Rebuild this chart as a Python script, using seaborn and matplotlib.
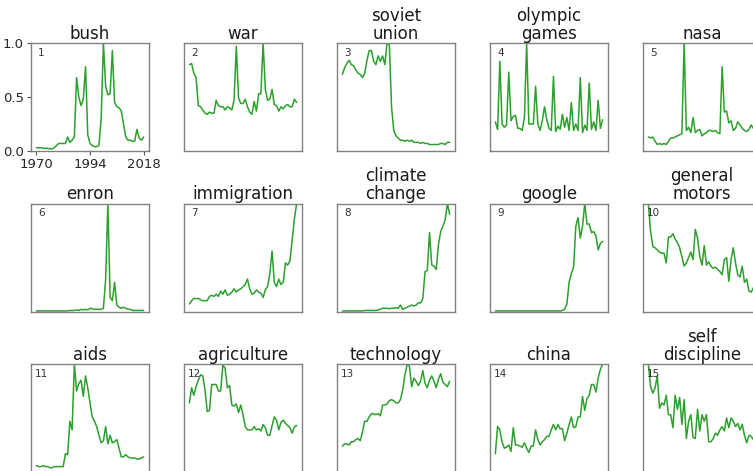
import matplotlib
matplotlib.use("Agg")
import matplotlib.pyplot as plt
import seaborn as sns

years = list(range(1970, 2019))

# relative frequency of each term per year, scaled so the max is 1
bush = [0.03, 0.03, 0.03, 0.025, 0.025, 0.025, 0.02, 0.02, 0.03, 0.05,
        0.07, 0.07, 0.07, 0.07, 0.13, 0.08, 0.10, 0.13, 0.68, 0.50,
        0.42, 0.48, 0.78, 0.15, 0.07, 0.05, 0.04, 0.04, 0.05, 0.30,
        1.0, 0.60, 0.52, 0.53, 0.93, 0.45, 0.41, 0.40, 0.37, 0.25,
        0.13, 0.10, 0.10, 0.09, 0.09, 0.20, 0.12, 0.10, 0.13]
war = [0.80, 0.81, 0.72, 0.68, 0.42, 0.41, 0.38, 0.35, 0.34, 0.36,
       0.35, 0.35, 0.47, 0.42, 0.41, 0.41, 0.38, 0.41, 0.40, 0.38,
       0.47, 0.97, 0.49, 0.44, 0.44, 0.48, 0.41, 0.36, 0.34, 0.46,
       0.37, 0.53, 0.53, 1.0, 0.57, 0.47, 0.48, 0.57, 0.43, 0.42,
       0.37, 0.41, 0.39, 0.42, 0.43, 0.41, 0.41, 0.48, 0.45]
soviet_union = [0.71, 0.77, 0.81, 0.84, 0.80, 0.79, 0.75, 0.72, 0.71, 0.68,
                0.72, 0.84, 0.93, 0.93, 0.83, 0.80, 0.88, 0.83, 0.88, 0.80,
                1.0, 0.99, 0.41, 0.19, 0.14, 0.12, 0.10, 0.10, 0.09, 0.10,
                0.09, 0.10, 0.08, 0.08, 0.08, 0.07, 0.08, 0.07, 0.07, 0.06,
                0.06, 0.06, 0.06, 0.06, 0.07, 0.07, 0.06, 0.08, 0.08]
olympic_games = [0.27, 0.20, 0.83, 0.25, 0.22, 0.24, 0.73, 0.28, 0.32, 0.33,
                 0.21, 0.21, 0.19, 0.31, 1.0, 0.25, 0.25, 0.25, 0.60, 0.25,
                 0.19, 0.28, 0.41, 0.29, 0.21, 0.19, 0.69, 0.18, 0.23, 0.20,
                 0.34, 0.22, 0.31, 0.19, 0.45, 0.19, 0.25, 0.19, 0.68, 0.17,
                 0.24, 0.19, 0.63, 0.20, 0.27, 0.19, 0.47, 0.21, 0.29]
nasa = [0.13, 0.12, 0.13, 0.09, 0.06, 0.07, 0.06, 0.07, 0.06, 0.09,
        0.12, 0.12, 0.13, 0.14, 0.15, 0.16, 1.0, 0.19, 0.22, 0.17,
        0.31, 0.17, 0.19, 0.20, 0.14, 0.16, 0.17, 0.19, 0.19, 0.18,
        0.19, 0.17, 0.16, 0.78, 0.36, 0.37, 0.26, 0.28, 0.19, 0.21,
        0.27, 0.24, 0.21, 0.19, 0.18, 0.20, 0.24, 0.21, 0.22]
enron = [0.005, 0.005, 0.005, 0.005, 0.005, 0.005, 0.005, 0.005, 0.005, 0.005,
         0.005, 0.005, 0.005, 0.005, 0.005, 0.01, 0.008, 0.01, 0.015, 0.01,
         0.02, 0.015, 0.02, 0.015, 0.03, 0.025, 0.02, 0.02, 0.02, 0.02,
         0.03, 0.30, 1.0, 0.13, 0.10, 0.27, 0.06, 0.04, 0.03, 0.04,
         0.03, 0.02, 0.02, 0.01, 0.01, 0.01, 0.01, 0.01, 0.01]
immigration = [0.07, 0.10, 0.12, 0.12, 0.12, 0.11, 0.10, 0.10, 0.10, 0.14,
               0.15, 0.14, 0.16, 0.14, 0.19, 0.16, 0.20, 0.15, 0.16, 0.18,
               0.21, 0.18, 0.20, 0.21, 0.23, 0.25, 0.30, 0.21, 0.16, 0.17,
               0.20, 0.18, 0.17, 0.13, 0.20, 0.23, 0.35, 0.56, 0.27, 0.23,
               0.30, 0.25, 0.27, 0.45, 0.43, 0.47, 0.66, 0.86, 1.0]
climate_change = [0.005, 0.005, 0.005, 0.005, 0.005, 0.005, 0.005, 0.005, 0.005, 0.005,
                  0.01, 0.01, 0.01, 0.01, 0.01, 0.01, 0.015, 0.02, 0.03, 0.03,
                  0.03, 0.025, 0.03, 0.03, 0.035, 0.03, 0.06, 0.02, 0.03, 0.04,
                  0.05, 0.06, 0.05, 0.06, 0.08, 0.08, 0.12, 0.37, 0.38, 0.73,
                  0.43, 0.42, 0.39, 0.62, 0.74, 0.79, 0.85, 1.0, 0.90]
google = [0.005] * 30 + [0.01, 0.02, 0.07, 0.27, 0.35, 0.41, 0.79, 0.87, 0.68, 0.79,
                         1.0, 0.81, 0.81, 0.73, 0.74, 0.70, 0.57, 0.63, 0.65]
general_motors = [1.0, 0.74, 0.60, 0.59, 0.57, 0.55, 0.54, 0.54, 0.45, 0.69,
                  0.69, 0.72, 0.67, 0.64, 0.59, 0.51, 0.42, 0.45, 0.50, 0.55,
                  0.48, 0.76, 0.68, 0.51, 0.43, 0.61, 0.43, 0.46, 0.42, 0.40,
                  0.41, 0.39, 0.37, 0.34, 0.48, 0.50, 0.28, 0.48, 0.59, 0.45,
                  0.34, 0.32, 0.42, 0.27, 0.30, 0.19, 0.18, 0.22, 0.20]
aids = [0.06, 0.05, 0.05, 0.06, 0.05, 0.05, 0.04, 0.04, 0.05, 0.05,
        0.05, 0.05, 0.05, 0.17, 0.16, 0.47, 0.39, 1.0, 0.75, 0.82,
        0.85, 0.70, 0.89, 0.78, 0.64, 0.51, 0.47, 0.42, 0.34, 0.27,
        0.29, 0.42, 0.26, 0.34, 0.27, 0.28, 0.30, 0.22, 0.14, 0.14,
        0.16, 0.14, 0.13, 0.13, 0.13, 0.12, 0.12, 0.13, 0.14]
agriculture = [0.64, 0.78, 0.71, 0.79, 0.85, 0.90, 0.89, 0.76, 0.56, 0.57,
               0.81, 0.81, 0.81, 0.75, 0.75, 0.99, 0.96, 0.78, 0.80, 0.62,
               0.61, 0.63, 0.55, 0.62, 0.53, 0.42, 0.39, 0.39, 0.39, 0.42,
               0.39, 0.40, 0.38, 0.44, 0.41, 0.34, 0.34, 0.43, 0.51, 0.48,
               0.39, 0.46, 0.48, 0.45, 0.43, 0.41, 0.36, 0.42, 0.43]
technology = [0.24, 0.26, 0.26, 0.25, 0.28, 0.28, 0.30, 0.31, 0.29, 0.37,
              0.47, 0.47, 0.51, 0.54, 0.54, 0.53, 0.54, 0.52, 0.62, 0.62,
              0.63, 0.66, 0.67, 0.66, 0.64, 0.64, 0.67, 0.76, 0.90, 1.0,
              0.98, 0.79, 0.87, 0.84, 0.80, 0.84, 0.94, 0.82, 0.78, 0.85,
              0.89, 0.84, 0.78, 0.86, 0.91, 0.83, 0.81, 0.79, 0.84]
china = [0.17, 0.42, 0.39, 0.28, 0.22, 0.23, 0.25, 0.19, 0.41, 0.25,
         0.25, 0.24, 0.23, 0.27, 0.22, 0.18, 0.24, 0.24, 0.39, 0.30,
         0.25, 0.28, 0.30, 0.33, 0.33, 0.39, 0.44, 0.39, 0.44, 0.40,
         0.40, 0.29, 0.36, 0.44, 0.51, 0.41, 0.42, 0.51, 0.51, 0.70,
         0.57, 0.68, 0.71, 0.81, 0.81, 0.74, 0.87, 0.95, 1.0]
self_discipline = [1.0, 0.79, 0.73, 0.78, 0.89, 0.59, 0.64, 0.62, 0.71, 0.53,
                   0.53, 0.41, 0.71, 0.58, 0.69, 0.44, 0.67, 0.31, 0.47, 0.53,
                   0.32, 0.31, 0.58, 0.38, 0.53, 0.47, 0.53, 0.28, 0.28, 0.31,
                   0.36, 0.34, 0.39, 0.42, 0.38, 0.50, 0.41, 0.50, 0.47, 0.42,
                   0.45, 0.39, 0.44, 0.34, 0.27, 0.34, 0.33, 0.30, 0.30]

titles = ["bush", "war", "soviet\nunion", "olympic\ngames", "nasa",
          "enron", "immigration", "climate\nchange", "google", "general\nmotors",
          "aids", "agriculture", "technology", "china", "self\ndiscipline"]
series = [bush, war, soviet_union, olympic_games, nasa,
          enron, immigration, climate_change, google, general_motors,
          aids, agriculture, technology, china, self_discipline]

sns.set_style("white", {"axes.edgecolor": "#808080"})
plt.rcParams["font.family"] = ["DejaVu Sans"]

fig = plt.figure(figsize=(7.53, 4.71), dpi=100)
FW, FH = 753, 471
col_left = [31, 184, 337, 490, 643]
row_top = [43, 203.5, 364]
W, H = 118, 108

for i, (name, vals) in enumerate(zip(titles, series)):
    r, c = divmod(i, 5)
    ax = fig.add_axes([col_left[c] / FW, 1 - (row_top[r] + H) / FH, W / FW, H / FH])
    sns.lineplot(x=years, y=vals, ax=ax, color="#2ca02c", linewidth=1.1)
    ax.set_ylim(0, 1)
    ax.set_xlabel("")
    ax.set_ylabel("")
    ax.set_title(name, fontsize=12, pad=3, linespacing=1.0, color="#1a1a1a")
    ax.text(0.09, 0.91, str(i + 1), transform=ax.transAxes, ha="center",
            va="center", fontsize=7.5, color="#333333")
    for s in ax.spines.values():
        s.set_linewidth(1.0)
    if i == 0:
        ax.set_xticks([1970, 1994, 2018])
        ax.set_yticks([0.0, 0.5, 1.0])
        ax.tick_params(bottom=True, left=True, length=3, width=0.8,
                       color="#555555", labelsize=9.5, pad=2)
    else:
        ax.set_xticks([])
        ax.set_yticks([])

fig.savefig("out.png", dpi=100)
